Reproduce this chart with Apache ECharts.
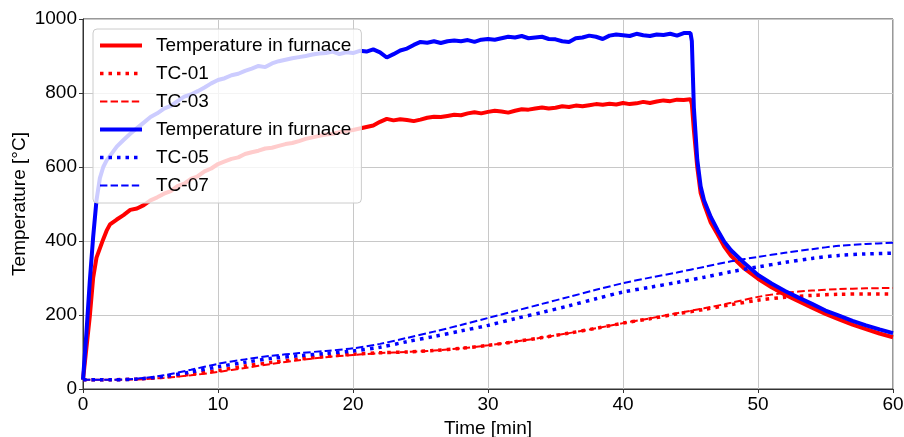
<!DOCTYPE html>
<html>
<head>
<meta charset="utf-8">
<script src="https://cdn.jsdelivr.net/npm/echarts@6/dist/echarts.min.js"></script>
<style>
  html, body { margin: 0; padding: 0; background: #fff; }
  #main { width: 904px; height: 437px; }
</style>
</head>
<body>
<div id="main"></div>
<script>
// furnace temperature
var timeFurnace = [0, 0.25, 0.5, 0.75, 1, 1.25, 1.5, 1.75, 2, 2.5, 3, 3.5, 4, 4.5,
  5, 5.5, 6, 6.5, 7, 7.5, 8, 8.5, 9, 9.5, 10, 10.5, 11, 11.5, 12, 12.5, 13, 13.5, 14, 14.5,
  15, 15.5, 16, 16.5, 17, 17.5, 18, 18.5, 19, 19.5, 20, 20.5, 21, 21.5, 22, 22.5, 23, 23.5, 24, 24.5,
  25, 25.5, 26, 26.5, 27, 27.5, 28, 28.5, 29, 29.5, 30, 30.5, 31, 31.5, 32, 32.5, 33, 33.5, 34, 34.5,
  35, 35.5, 36, 36.5, 37, 37.5, 38, 38.5, 39, 39.5, 40, 40.5, 41, 41.5, 42, 42.5, 43, 43.5, 44, 44.5, 45,
  45.1, 45.25, 45.5, 45.75, 46, 46.5, 47, 47.5, 48, 49, 50, 51, 52, 53, 54, 55, 56, 57, 58, 59, 60];
var furnaceRed = [25, 110, 195, 300, 355, 380, 405, 428, 445, 458, 470, 484, 488, 497,
  510, 518, 528, 535, 548, 555, 568, 575, 588, 596, 608, 615, 622, 626, 635, 640, 644, 650, 652, 657,
  662, 665, 670, 676, 680, 684, 688, 690, 694, 697, 700, 704, 708, 712, 722, 730, 726, 729, 727, 724,
  728, 733, 736, 735, 738, 741, 740, 745, 748, 745, 749, 752, 750, 747, 752, 756, 755, 758, 761, 758,
  760, 764, 762, 766, 764, 767, 770, 768, 771, 769, 773, 770, 772, 776, 773, 777, 780, 778, 782, 781, 783,
  770, 700, 600, 530, 500, 450, 418, 385, 360, 325, 298, 275, 255, 237, 220, 203, 188, 174, 162, 150, 140];
var furnaceBlue = [25, 150, 290, 410, 510, 570, 600, 618, 630, 655, 673, 690, 705, 720,
  735, 745, 758, 765, 778, 790, 796, 805, 815, 826, 835, 840, 848, 852, 860, 866, 873, 870, 880, 886,
  890, 894, 897, 900, 904, 907, 908, 912, 905, 910, 908, 914, 912, 918, 910, 896, 905, 915, 920, 930,
  938, 936, 940, 935, 940, 942, 940, 943, 938, 944, 946, 944, 948, 952, 950, 954, 948, 950, 952, 946,
  945, 940, 938, 948, 950, 955, 952, 946, 955, 958, 956, 954, 960, 956, 954, 958, 957, 960, 955, 962, 962,
  940, 760, 620, 548, 510, 465, 430, 398, 375, 340, 308, 285, 265, 247, 230, 212, 198, 184, 172, 161, 151];

// thermocouples
var timeTC = [0, 2, 4, 6, 8, 10, 12, 14, 16, 18, 20, 22, 24, 26, 28, 30,
  32, 34, 36, 38, 40, 42, 44, 46, 48, 50, 52, 54, 56, 58, 60];
var tc01 = [25, 25, 27, 32, 40, 50, 62, 72, 81, 88, 94, 98, 100, 104, 110, 118,
  128, 139, 151, 164, 178, 190, 203, 215, 228, 240, 248, 253, 256, 257, 257];
var tc03 = [25, 25, 26, 30, 37, 46, 57, 68, 78, 86, 92, 97, 100, 104, 110, 118,
  128, 139, 151, 164, 178, 191, 205, 218, 233, 249, 260, 266, 270, 272, 273];
var tc05 = [25, 25, 27, 34, 46, 60, 72, 83, 90, 96, 103, 113, 128, 142, 157, 172,
  190, 207, 225, 244, 262, 275, 288, 302, 317, 330, 342, 353, 361, 365, 367];
var tc07 = [25, 25, 28, 37, 52, 68, 80, 90, 97, 103, 110, 122, 138, 155, 173, 192,
  211, 230, 249, 268, 286, 301, 315, 330, 345, 357, 368, 378, 387, 392, 395];

var xTicks = [0, 10, 20, 30, 40, 50, 60];
var yTicks = [0, 200, 400, 600, 800, 1000];

function pairs(xs, ys) {
  return xs.map(function (x, i) { return [x, ys[i]]; });
}

var font = 'Liberation Sans, Arial, sans-serif';
var solid = { width: 4 };
var dotted = { width: 3.5, type: [3.5, 5], cap: 'butt' };
var dashed = { width: 2, type: [7.4, 3.2] };

var chart = echarts.init(document.getElementById('main'));

var option = {
  animation: false,
  backgroundColor: '#fff',
  grid: { left: 83, right: 11, top: 19, bottom: 48, outerBoundsMode: 'none', containLabel: false,
    show: true, borderColor: '#333', borderWidth: 1 },
  legend: {
    orient: 'vertical',
    left: 93, top: 29,
    padding: [7, 10, 8, 5],
    itemWidth: 42, itemHeight: 14, itemGap: 9,
    backgroundColor: 'rgba(255,255,255,0.8)',
    borderColor: '#ccc', borderWidth: 1, borderRadius: 4,
    itemStyle: { opacity: 0 },
    data: [
      { name: 'Temperature in furnace', lineStyle: solid },
      { name: 'TC-01', lineStyle: dotted },
      { name: 'TC-03', lineStyle: dashed },
      { name: 'Temperature in furnace ', lineStyle: solid },
      { name: 'TC-05', lineStyle: dotted },
      { name: 'TC-07', lineStyle: dashed }
    ],
    formatter: function (name) { return name.trim(); },
    textStyle: { fontFamily: font, fontSize: 19, color: '#000', padding: [0, 0, 0, 9] }
  },
  xAxis: {
    type: 'value', min: xTicks[0], max: xTicks[xTicks.length - 1], interval: 10,
    name: 'Time [min]', nameLocation: 'middle', nameGap: 30,
    nameTextStyle: { fontFamily: font, fontSize: 19, color: '#000' },
    axisLine: { lineStyle: { color: '#333' } },
    axisTick: { show: true, length: 4, lineStyle: { color: '#333' } },
    axisLabel: { fontFamily: font, fontSize: 19, color: '#000', margin: 6 },
    splitLine: { show: true, lineStyle: { color: '#c8c8c8', width: 1 } }
  },
  yAxis: {
    type: 'value', min: yTicks[0], max: yTicks[yTicks.length - 1], interval: 200,
    name: 'Temperature [°C]', nameLocation: 'middle', nameGap: 54, nameMoveOverlap: false,
    nameTextStyle: { fontFamily: font, fontSize: 19, color: '#000' },
    axisLine: { show: true, lineStyle: { color: '#333' } },
    axisTick: { show: true, length: 4, lineStyle: { color: '#333' } },
    axisLabel: { fontFamily: font, fontSize: 19, color: '#000', margin: 6,
      formatter: function (v) { return String(v); } },
    splitLine: { show: true, lineStyle: { color: '#c8c8c8', width: 1 } }
  },
  series: [
    { name: 'Temperature in furnace', type: 'line', symbol: 'none', data: pairs(timeFurnace, furnaceRed),
      lineStyle: Object.assign({ color: '#ff0000' }, solid), itemStyle: { color: '#ff0000' } },
    { name: 'TC-01', type: 'line', symbol: 'none', smooth: 0.3, data: pairs(timeTC, tc01),
      lineStyle: Object.assign({ color: '#ff0000' }, dotted), itemStyle: { color: '#ff0000' } },
    { name: 'TC-03', type: 'line', symbol: 'none', smooth: 0.3, data: pairs(timeTC, tc03),
      lineStyle: Object.assign({ color: '#ff0000' }, dashed), itemStyle: { color: '#ff0000' } },
    { name: 'Temperature in furnace ', type: 'line', symbol: 'none', data: pairs(timeFurnace, furnaceBlue),
      lineStyle: Object.assign({ color: '#0000ff' }, solid), itemStyle: { color: '#0000ff' } },
    { name: 'TC-05', type: 'line', symbol: 'none', smooth: 0.3, data: pairs(timeTC, tc05),
      lineStyle: Object.assign({ color: '#0000ff' }, dotted), itemStyle: { color: '#0000ff' } },
    { name: 'TC-07', type: 'line', symbol: 'none', smooth: 0.3, data: pairs(timeTC, tc07),
      lineStyle: Object.assign({ color: '#0000ff' }, dashed), itemStyle: { color: '#0000ff' } }
  ]
};
chart.setOption(option);
</script>
</body>
</html>
